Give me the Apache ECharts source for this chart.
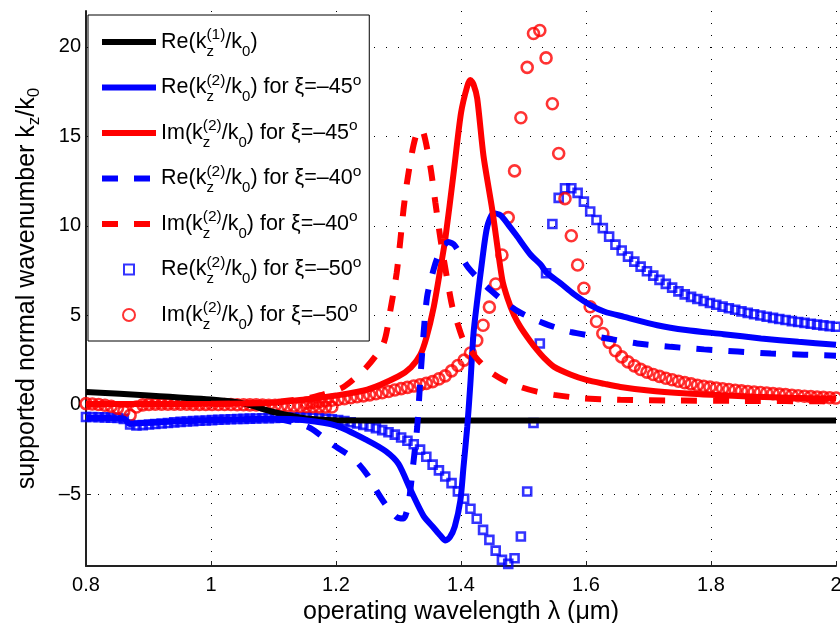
<!DOCTYPE html>
<html>
<head>
<meta charset="utf-8">
<script src="https://cdn.jsdelivr.net/npm/echarts@6/dist/echarts.min.js"></script>
<style>
html,body{margin:0;padding:0;background:#fff;}
#chart{width:840px;height:623px;}
</style>
</head>
<body>
<div id="chart"></div>
<script>
// ---------- data ----------
const xTicks = [0.8, 1.0, 1.2, 1.4, 1.6, 1.8, 2.0];
const yTicks = [-5, 0, 5, 10, 15, 20];

// wavelength samples of the marker series (um)
const xSample = [0.8,0.8101,0.8202,0.8303,0.8403,0.8504,0.8605,0.8706,0.8807,0.8908,
0.9008,0.9109,0.9210,0.9311,0.9412,0.9513,0.9613,0.9714,0.9815,0.9916,
1.0017,1.0118,1.0218,1.0319,1.0420,1.0521,1.0622,1.0723,1.0824,1.0924,
1.1025,1.1126,1.1227,1.1328,1.1429,1.1529,1.1630,1.1731,1.1832,1.1933,
1.2034,1.2134,1.2235,1.2336,1.2437,1.2538,1.2639,1.2739,1.2840,1.2941,
1.3042,1.3143,1.3244,1.3345,1.3445,1.3546,1.3647,1.3748,1.3849,1.3950,
1.4050,1.4151,1.4252,1.4353,1.4454,1.4555,1.4655,1.4756,1.4857,1.4958,
1.5059,1.5160,1.5261,1.5361,1.5462,1.5563,1.5664,1.5765,1.5866,1.5966,
1.6067,1.6168,1.6269,1.6370,1.6471,1.6571,1.6672,1.6773,1.6874,1.6975,
1.7076,1.7176,1.7277,1.7378,1.7479,1.7580,1.7681,1.7782,1.7882,1.7983,
1.8084,1.8185,1.8286,1.8387,1.8487,1.8588,1.8689,1.8790,1.8891,1.8992,
1.9092,1.9193,1.9294,1.9395,1.9496,1.9597,1.9697,1.9798,1.9899,2.0];

// Re(kz2/k0), xi = -50 deg (squares), one value per xSample
const reXi50 = [-0.68,-0.68,-0.69,-0.7,-0.71,-0.73,-0.78,-1.1,-1.15,-1.13,
-1.1,-1.07,-1.04,-1.01,-0.98,-0.95,-0.93,-0.91,-0.89,-0.87,
-0.85,-0.83,-0.82,-0.8,-0.79,-0.78,-0.77,-0.76,-0.75,-0.74,
-0.73,-0.72,-0.71,-0.7,-0.7,-0.7,-0.72,-0.74,-0.77,-0.8,
-0.85,-0.9,-0.97,-1.04,-1.12,-1.2,-1.3,-1.41,-1.53,-1.66,
-1.82,-2.0,-2.2,-2.5,-2.9,-3.34,-3.66,-4.0,-4.37,-4.83,
-5.24,-5.8,-6.36,-6.98,-7.54,-8.14,-8.66,-8.88,-8.57,-7.35,
-4.84,-1.01,3.43,7.35,10.1,11.56,12.1,12.1,11.84,11.35,
10.8,10.33,9.87,9.4,8.95,8.62,8.28,8.0,7.72,7.46,
7.22,6.98,6.76,6.55,6.34,6.17,6.03,5.91,5.8,5.69,
5.59,5.49,5.4,5.31,5.22,5.14,5.06,4.99,4.92,4.86,
4.8,4.74,4.68,4.63,4.58,4.53,4.48,4.44,4.4,4.36];

// Im(kz2/k0), xi = -50 deg (circles): short-wave branch (xSample[0..39])
const imXi50Low = [0.07,0.05,0.02,-0.02,-0.08,-0.18,-0.35,-0.58,-0.12,0.0,
0.03,0.04,0.04,0.04,0.04,0.04,0.04,0.03,0.03,0.03,
0.03,0.02,0.02,0.02,0.01,0.01,0.0,0.0,-0.01,-0.02,
-0.03,-0.04,-0.05,-0.06,-0.08,-0.09,-0.1,-0.11,-0.12,-0.12];
// long-wave branch (xSample[35..119])
const imXi50High = [0.1,0.14,0.18,0.22,0.26,
0.3,0.35,0.4,0.45,0.5,0.56,0.62,0.68,0.75,0.83,
0.91,0.98,1.05,1.12,1.2,1.3,1.45,1.62,1.9,2.2,
2.5,2.9,3.6,4.45,5.46,6.75,8.37,10.46,13.07,16.04,
18.85,20.74,20.91,19.38,16.82,14.04,11.52,9.45,7.81,6.51,
5.48,4.66,3.99,3.49,3.02,2.68,2.4,2.18,1.98,1.83,
1.7,1.59,1.49,1.4,1.32,1.24,1.17,1.1,1.04,0.99,
0.94,0.9,0.86,0.82,0.78,0.75,0.72,0.69,0.66,0.63,
0.6,0.57,0.54,0.51,0.48,0.46,0.44,0.42,0.4,0.38];
const highStart = 35;

// Re(kz1/k0)
const k1X = [0.8,0.9,1.0,1.05,1.1,1.15,1.2,1.3,1.4,1.6,1.8,2.0];
const k1Y = [0.72,0.53,0.3,0.1,-0.4,-0.75,-0.86,-0.87,-0.87,-0.87,-0.87,-0.87];

// Re(kz2/k0), xi = -45 deg
const re45X = [0.8,0.86,0.87,0.9,1.0,1.1,1.15,1.2,1.25,1.28,1.3,1.32,1.34,1.356,1.367,1.375,1.382,1.39,1.399,1.404,1.41,1.415,1.42,1.426,1.434,1.442,1.452,1.463,1.475,1.49,1.511,1.527,1.538,1.559,1.58,1.607,1.63,1.661,1.714,1.76,1.82,1.88,1.94,2.0];
const re45Y = [-0.72,-0.76,-1.05,-1.0,-0.85,-0.78,-0.86,-1.16,-1.98,-2.6,-3.3,-4.8,-6.2,-6.85,-7.3,-7.58,-7.4,-6.8,-5.34,-3.47,-1.24,1.19,3.99,5.85,8.09,9.96,10.7,10.6,10.1,9.4,8.4,7.85,7.35,6.8,6.2,5.57,5.2,4.92,4.45,4.18,3.95,3.71,3.52,3.36];

// Im(kz2/k0), xi = -45 deg
const im45X = [0.8,0.9,1.0,1.1,1.15,1.2,1.25,1.3,1.32,1.335,1.345,1.356,1.367,1.375,1.388,1.4,1.41,1.415,1.42,1.426,1.436,1.45,1.466,1.474,1.485,1.495,1.51,1.522,1.535,1.549,1.575,1.602,1.63,1.655,1.7,1.762,1.8,1.869,1.93,2.0];
const im45Y = [0.05,0.05,0.06,0.12,0.3,0.52,0.85,1.6,2.1,2.8,3.8,5.4,7.6,9.3,12.9,16.3,17.8,18.15,17.9,17.1,13.9,10.9,7.0,6.0,5.0,4.36,3.6,3.06,2.55,2.12,1.7,1.38,1.17,1.0,0.8,0.63,0.56,0.46,0.4,0.35];

// Re(kz2/k0), xi = -40 deg
const re40X = [0.8,0.86,0.87,0.9,1.0,1.1,1.13,1.159,1.196,1.228,1.25,1.265,1.28,1.297,1.308,1.316,1.322,1.33,1.336,1.3456,1.359,1.37,1.38,1.39,1.412,1.447,1.49,1.533,1.575,1.634,1.682,1.736,1.789,1.843,1.896,1.949,2.0];
const re40Y = [-0.72,-0.76,-1.05,-1.0,-0.85,-0.8,-0.95,-1.3,-2.25,-3.0,-3.9,-4.8,-5.6,-6.27,-6.35,-5.5,-3.8,-1.2,2.0,6.0,7.9,8.8,9.1,8.9,7.65,6.41,5.25,4.55,4.08,3.71,3.43,3.24,3.1,2.98,2.87,2.8,2.75];

// Im(kz2/k0), xi = -40 deg
const im40X = [0.8,0.9,1.0,1.1,1.159,1.175,1.212,1.249,1.276,1.287,1.297,1.303,1.308,1.3135,1.324,1.333,1.34,1.351,1.359,1.367,1.378,1.386,1.394,1.404,1.425,1.447,1.47,1.495,1.52,1.549,1.591,1.655,1.75,1.85,2.0];
const im40Y = [0.02,0.03,0.05,0.15,0.4,0.54,1.0,2.12,3.43,5.29,7.35,9.21,10.9,12.4,14.5,15.4,15.2,13.3,11.3,9.3,7.0,5.5,4.6,3.61,2.6,1.84,1.35,1.0,0.75,0.56,0.38,0.28,0.24,0.22,0.2];

const seriesNames = ['k1', 're45', 'im45', 're40', 'im40', 're50', 'im50'];
const legendTexts = [
  '{m|Re(k}{z|z}{p|(1)}{m|/k}{b|0}{m|)}',
  '{m|Re(k}{z|z}{p|(2)}{m|/k}{b|0}{m|) for ξ=–45}{p|o}',
  '{m|Im(k}{z|z}{p|(2)}{m|/k}{b|0}{m|) for ξ=–45}{p|o}',
  '{m|Re(k}{z|z}{p|(2)}{m|/k}{b|0}{m|) for ξ=–40}{p|o}',
  '{m|Im(k}{z|z}{p|(2)}{m|/k}{b|0}{m|) for ξ=–40}{p|o}',
  '{m|Re(k}{z|z}{p|(2)}{m|/k}{b|0}{m|) for ξ=–50}{p|o}',
  '{m|Im(k}{z|z}{p|(2)}{m|/k}{b|0}{m|) for ξ=–50}{p|o}'
];

// ---------- build ----------
const F = "'Liberation Sans', Arial, Helvetica, sans-serif";
const BLUE = '#0000ff', RED = '#ff0000', BLACK = '#000000';
const zip = (xs, ys) => xs.map((x, i) => [x, ys[i]]);
const squareData = zip(xSample, reXi50);
const circleData = imXi50Low.map((y, i) => [xSample[i], y])
  .concat(imXi50High.map((y, k) => [xSample[k + highStart], y]));

const labelMap = {};
seriesNames.forEach((n, i) => labelMap[n] = legendTexts[i]);

function lineSeries(name, xs, ys, color, dashed) {
  return {
    name, type: 'line', data: zip(xs, ys), symbol: 'none', smooth: 0.25,
    lineStyle: { color, width: 6, type: dashed ? [16, 16] : 'solid' },
    itemStyle: { color }, emphasis: { disabled: true }, animation: false
  };
}
function markerSeries(name, data, color, symbol, size) {
  return {
    name, type: 'scatter', data, symbol, symbolSize: size,
    itemStyle: { color: 'rgba(0,0,0,0)', borderColor: color, borderWidth: 2.6 },
    emphasis: { disabled: true }, animation: false
  };
}

const rich = {
  m: { fontFamily: F, fontSize: 21.5, color: '#000', lineHeight: 34 },
  z: { fontFamily: F, fontSize: 15, color: '#000', width: 0, padding: [19, 0, 0, 0], lineHeight: 34 },
  p: { fontFamily: F, fontSize: 15.5, color: '#000', padding: [0, 0, 14, 0], lineHeight: 34 },
  b: { fontFamily: F, fontSize: 15, color: '#000', padding: [19, 0, 0, 0], lineHeight: 34 }
};

const lineItem = (name) => ({ name, itemStyle: { opacity: 0, color: 'rgba(0,0,0,0)', borderWidth: 0 } });
const squareIcon = 'path://M0,0M14,14M2,2L12,2L12,12L2,12Z';
const circleIcon = 'path://M0,0M14,14M1,7A6,6,0,1,0,13,7A6,6,0,1,0,1,7Z';

const chart = echarts.init(document.getElementById('chart'), null, { renderer: 'canvas' });
chart.setOption({
  backgroundColor: '#fff',
  animation: false,
  grid: { left: 86, right: 4, top: 11, bottom: 57, containLabel: false, outerBoundsMode: 'none' },
  xAxis: {
    type: 'value', min: xTicks[0], max: xTicks[xTicks.length - 1], interval: 0.2,
    name: 'operating wavelength λ (μm)', nameLocation: 'middle', nameGap: 30,
    nameTextStyle: { fontFamily: F, fontSize: 25, color: '#000' },
    axisLine: { show: true, onZero: false, lineStyle: { color: '#222', width: 2 } },
    axisTick: { show: true, inside: true, length: 5, lineStyle: { color: '#222', width: 1 } },
    axisLabel: { fontFamily: F, fontSize: 20, color: '#000', margin: 9 },
    splitLine: { show: true, lineStyle: { color: '#000', width: 1, type: [1, 11] } }
  },
  yAxis: {
    type: 'value', min: -9, max: 22,
    name: 'supported normal wavenumber k{s|z}/k{s|0}', nameLocation: 'middle', nameGap: 43,
    nameTextStyle: { fontFamily: F, fontSize: 25, color: '#000',
      rich: { s: { fontFamily: F, fontSize: 17, color: '#000', padding: [14, 0, 0, 0] } } },
    axisLine: { show: true, onZero: false, lineStyle: { color: '#222', width: 2 } },
    axisTick: { show: true, inside: true, length: 5, customValues: yTicks, lineStyle: { color: '#222', width: 1 } },
    axisLabel: { fontFamily: F, fontSize: 20, color: '#000', margin: 5, customValues: yTicks,
      formatter: v => (v < 0 ? '–' + Math.abs(v) : String(v)) },
    splitLine: { show: true, lineStyle: { color: '#000', width: 1, type: [1, 11] } }
  },
  legend: {
    orient: 'vertical', left: 88, top: 15, padding: [10, 8, 9, 11], itemGap: 11.5,
    itemWidth: 54, itemHeight: 14, selectedMode: false,
    backgroundColor: '#fff', borderColor: '#000', borderWidth: 1, borderRadius: 0,
    lineStyle: { width: 'inherit' },
    data: [
      lineItem('k1'), lineItem('re45'), lineItem('im45'), lineItem('re40'), lineItem('im40'),
      { name: 're50', icon: squareIcon, itemStyle: { color: 'rgba(0,0,0,0)', borderColor: BLUE, borderWidth: 2 } },
      { name: 'im50', icon: circleIcon, itemStyle: { color: 'rgba(0,0,0,0)', borderColor: RED, borderWidth: 2 } }
    ],
    formatter: n => labelMap[n],
    textStyle: { fontFamily: F, fontSize: 21.5, color: '#000', rich }
  },
  series: [
    lineSeries('k1', k1X, k1Y, BLACK, false),
    lineSeries('re45', re45X, re45Y, BLUE, false),
    lineSeries('im45', im45X, im45Y, RED, false),
    lineSeries('re40', re40X, re40Y, BLUE, true),
    lineSeries('im40', im40X, im40Y, RED, true),
    markerSeries('re50', squareData, BLUE, 'rect', 8),
    markerSeries('im50', circleData, RED, 'circle', 11)
  ]
});
</script>
</body>
</html>
